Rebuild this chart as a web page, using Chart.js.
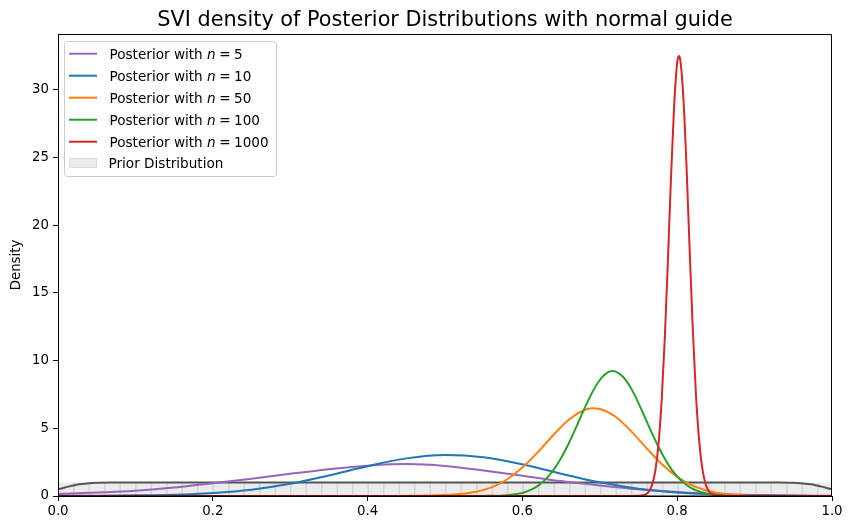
<!DOCTYPE html>
<html><head><meta charset="utf-8">
<script src="https://cdn.jsdelivr.net/npm/chart.js@4/dist/chart.umd.min.js"></script>
<style>html,body{margin:0;padding:0;background:#fff}#wrap{width:853px;height:530px}</style>
</head><body><div id="wrap"><canvas id="c" width="853" height="530"></canvas></div>
<script>
const titleText = 'SVI density of Posterior Distributions with normal guide';
const yLabel = 'Density';
const xTicks = [0, 0.2, 0.4, 0.6, 0.8, 1.0];
const yTicks = [0, 5, 10, 15, 20, 25, 30];
const sampleSizes = ['5', '10', '50', '100', '1000'];
const priorName = 'Prior Distribution';

// n = 5
const n5X = [0,0.05,0.1,0.15,0.2,0.25,0.3,0.35,0.4,0.43,0.45,0.5,0.55,0.6,0.65,0.7,0.75,0.8,0.85,0.9,0.95,1.0];
const n5Y = [0.15,0.25,0.39,0.62,0.94,1.28,1.64,1.98,2.24,2.34,2.36,2.22,1.88,1.50,1.10,0.78,0.50,0.30,0.15,0.07,0.03,0.01];
// n = 10
const n10X = [0,0.05,0.1,0.15,0.2,0.25,0.3,0.35,0.4,0.45,0.5,0.55,0.6,0.65,0.7,0.75,0.8,0.85,0.9,0.95,1.0];
const n10Y = [0.01,0.02,0.05,0.10,0.23,0.47,0.90,1.52,2.20,2.78,3.03,2.86,2.34,1.65,1.01,0.54,0.25,0.10,0.034,0.01,0.003];
// n = 50
const n50X = [0.40,0.44,0.48,0.50,0.52,0.54,0.56,0.58,0.60,0.62,0.64,0.66,0.68,0.69,0.70,0.72,0.74,0.76,0.78,0.80,0.82,0.84,0.86,0.88,0.90,0.92,0.94,0.98];
const n50Y = [0,0.002,0.03,0.07,0.15,0.32,0.64,1.22,2.10,3.24,4.51,5.64,6.35,6.48,6.43,5.87,4.81,3.56,2.36,1.41,0.76,0.37,0.16,0.063,0.02,0.006,0.001,0];
// n = 100
const n100X = [0.52,0.56,0.58,0.60,0.61,0.62,0.63,0.64,0.65,0.66,0.67,0.68,0.69,0.70,0.71,0.717,0.72,0.73,0.74,0.75,0.76,0.77,0.78,0.79,0.80,0.81,0.82,0.83,0.84,0.86,0.88,0.92];
const n100Y = [0,0.013,0.062,0.22,0.44,0.75,1.23,1.91,2.81,3.90,5.15,6.44,7.63,8.57,9.13,9.24,9.21,8.81,7.99,6.86,5.59,4.32,3.16,2.19,1.44,0.90,0.53,0.30,0.157,0.038,0.007,0];
// n = 1000
const n1000X = [0,0.70,0.74,0.752,0.756,0.760,0.764,0.768,0.772,0.776,0.780,0.784,0.788,0.792,0.796,0.800,0.802,0.804,0.808,0.812,0.816,0.820,0.824,0.828,0.832,0.836,0.840,0.844,0.848,0.852,0.86,0.90,1.0];
const n1000Y = [0,0,0,0.01,0.05,0.14,0.37,0.90,1.97,3.94,7.13,11.70,17.42,23.5,28.8,32.0,32.5,32.2,29.4,24.4,18.3,12.5,7.72,4.33,2.20,1.02,0.43,0.16,0.05,0.01,0,0,0];
// prior density curve
const priorX = [0,0.01,0.02,0.03,0.04,0.05,0.07,0.10,0.90,0.93,0.95,0.96,0.97,0.98,0.99,1.0];
const priorY = [0.49,0.64,0.78,0.88,0.94,0.975,0.995,1.0,1.0,0.995,0.975,0.94,0.88,0.78,0.64,0.49];
// prior (uniform) shaded region
const uniformX = [0, 1];
const uniformY = [1, 1];

const colors = ['#9467bd', '#1f77b4', '#ff7f0e', '#2ca02c', '#d62728'];
const seriesX = [n5X, n10X, n50X, n100X, n1000X];
const seriesY = [n5Y, n10Y, n50Y, n100Y, n1000Y];

const zip = (xs, ys) => xs.map((x, i) => ({x: x, y: ys[i]}));

// hatch pattern for prior fill
const pc = document.createElement('canvas');
pc.width = 31; pc.height = 8;
const pctx = pc.getContext('2d');
pctx.fillStyle = '#ebebeb'; pctx.fillRect(0, 0, 31, 8);
pctx.strokeStyle = '#d6d6d6'; pctx.lineWidth = 1.5;
pctx.beginPath(); pctx.moveTo(0.75, 0); pctx.lineTo(0.75, 8); pctx.moveTo(16.25, 0); pctx.lineTo(16.25, 8); pctx.stroke();
const ctx = document.getElementById('c').getContext('2d');
const hatch = ctx.createPattern(pc, 'repeat');
try { hatch.setTransform(new DOMMatrix().translate(11, 0)); } catch (e) {}

const datasets = [];
seriesX.forEach((xs, i) => {
  datasets.push({
    label: 'Posterior with n = ' + sampleSizes[i],
    data: zip(xs, seriesY[i]),
    borderColor: colors[i], backgroundColor: colors[i],
    borderWidth: 2, pointRadius: 0, fill: false,
    cubicInterpolationMode: 'monotone', order: 4 - i
  });
});
datasets.push({label: 'prior-kde', data: zip(priorX, priorY), borderColor: '#555555', borderWidth: 2,
  pointRadius: 0, fill: false, cubicInterpolationMode: 'monotone', order: 5});
datasets.push({label: priorName, data: zip(uniformX, uniformY), borderWidth: 0, borderColor: 'rgba(0,0,0,0)',
  backgroundColor: hatch, pointRadius: 0, fill: 'origin', order: 6});

const FONT = '"DejaVu Sans", sans-serif';
const LFS = '13.6px ';

const decor = {
  id: 'decor',
  afterDatasetsDraw(chart) {
    const c = chart.ctx, a = chart.chartArea;
    c.save();
    c.strokeStyle = '#000'; c.lineWidth = 1;
    const l = Math.round(a.left) + 0.5, r = Math.round(a.right) - 0.5, t = Math.round(a.top) + 0.5, b = Math.round(a.bottom) - 0.5;
    c.beginPath(); c.moveTo(l, t); c.lineTo(r, t); c.lineTo(r, b + 1); c.moveTo(l, t); c.lineTo(l, b + 1);
    c.moveTo(l - 0.5, b + 0.5); c.lineTo(r + 0.5, b + 0.5); c.stroke();
    c.restore();
  },
  afterDraw(chart) {
    const c = chart.ctx, a = chart.chartArea;
    c.save();
    c.fillStyle = '#000';
    c.font = '20.8px ' + FONT; c.textAlign = 'center'; c.textBaseline = 'alphabetic';
    c.fillText(titleText, (a.left + a.right) / 2, 26);
    c.save();
    c.translate(17, (a.top + a.bottom) / 2); c.rotate(-Math.PI / 2);
    c.font = '13.33px ' + FONT; c.textBaseline = 'middle'; c.textAlign = 'center';
    c.fillText(yLabel, 0, 0);
    c.restore();
    // legend
    const bx = 64.5, by = 41.5, bw = 212, bh = 135;
    c.beginPath(); c.roundRect(bx, by, bw, bh, 3);
    c.fillStyle = 'rgba(255,255,255,0.8)'; c.fill();
    c.strokeStyle = '#cccccc'; c.lineWidth = 1; c.stroke();
    const rows = [53.7, 75.7, 97.7, 119.7, 141.7];
    c.textAlign = 'left'; c.textBaseline = 'alphabetic';
    rows.forEach((yc, i) => {
      c.strokeStyle = colors[i]; c.lineWidth = 2;
      c.beginPath(); c.moveTo(69, yc); c.lineTo(97, yc); c.stroke();
      c.fillStyle = '#000';
      let x = 109.5; const yb = yc + 4.8;
      c.font = LFS + FONT;
      const s1 = 'Posterior with ';
      c.fillText(s1, x, yb); x += c.measureText(s1).width;
      c.font = 'italic ' + LFS + FONT;
      c.fillText('n', x, yb); x += c.measureText('n').width + 3.5;
      c.font = LFS + FONT;
      c.fillText('=', x, yb); x += c.measureText('=').width + 3.5;
      c.fillText(sampleSizes[i], x, yb);
    });
    c.fillStyle = '#ebebeb'; c.fillRect(69, 158, 28, 10);
    c.strokeStyle = '#dcdcdc'; c.lineWidth = 1; c.strokeRect(69.5, 158.5, 27, 9);
    c.fillStyle = '#000'; c.font = LFS + FONT;
    c.fillText(priorName, 108.5, 163.5 + 4.8);
    c.restore();
  }
};

new Chart(ctx, {
  type: 'line',
  data: {datasets: datasets},
  plugins: [decor],
  options: {
    responsive: false, animation: false, devicePixelRatio: 1,
    layout: {padding: {top: 34, right: 21, left: 0, bottom: 0}},
    plugins: {legend: {display: false}, title: {display: false}, tooltip: {enabled: false}},
    scales: {
      x: {
        type: 'linear', min: 0, max: 1,
        afterBuildTicks: s => { s.ticks = xTicks.map(v => ({value: v})); },
        afterFit: s => { s.height = 34; },
        ticks: {autoSkip: false, maxRotation: 0, padding: 3, color: '#000', font: {family: FONT, size: 13.33},
          callback: v => Number(v).toFixed(1)},
        grid: {display: true, drawOnChartArea: false, drawTicks: true, tickLength: 5, tickWidth: 1, tickColor: '#000'},
        border: {display: true, color: '#000', width: 1}
      },
      y: {
        type: 'linear', min: 0, max: 34.13,
        afterBuildTicks: s => { s.ticks = yTicks.map(v => ({value: v})); },
        afterFit: s => { s.width = 58; },
        ticks: {autoSkip: false, padding: 4, color: '#000', font: {family: FONT, size: 13.33},
          callback: v => String(v)},
        grid: {display: true, drawOnChartArea: false, drawTicks: true, tickLength: 5, tickWidth: 1, tickColor: '#000'},
        border: {display: true, color: '#000', width: 1}
      }
    }
  }
});
</script></body></html>
